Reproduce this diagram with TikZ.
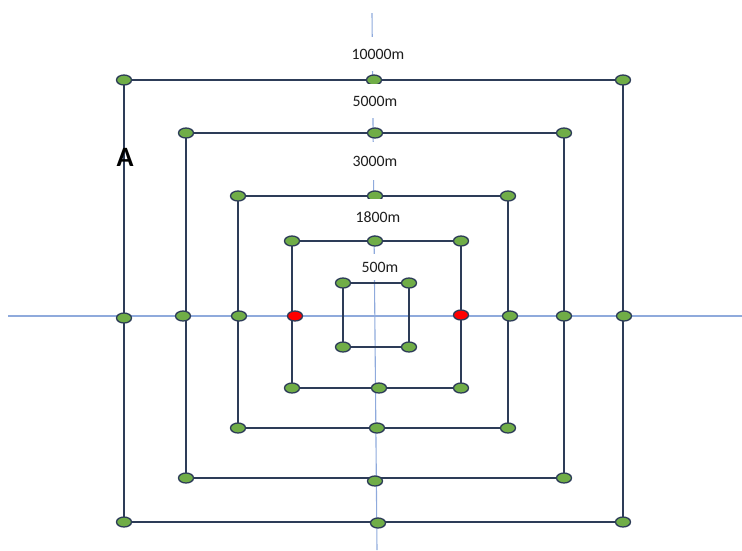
\documentclass[tikz,border=0pt]{standalone}
\usepackage{fontspec}
\setmainfont{Carlito}
\usetikzlibrary{shapes.geometric,backgrounds}
\definecolor{nodegreen}{RGB}{112,173,71}
\definecolor{edgenavy}{RGB}{45,60,88}
\definecolor{axisblue}{RGB}{143,170,220}
\definecolor{nodered}{RGB}{255,0,0}
\definecolor{labelgray}{RGB}{30,30,30}
\begin{document}
\begin{tikzpicture}[x=1pt,y=-1pt,
  pt/.style={ellipse,draw=edgenavy,line width=1.3pt,fill=nodegreen,minimum width=15pt,minimum height=10pt,inner sep=0pt},
  hot/.style={pt,fill=nodered},
  ring/.style={draw=edgenavy,line width=2pt,line join=miter},
  axisline/.style={draw=axisblue,line width=1.1pt},
  dist/.style={fill=white,text=labelgray,font=\fontsize{15.8}{18}\selectfont,inner xsep=3pt,inner ysep=0pt,minimum height=#1},
  bigletter/.style={font=\fontsize{28}{32}\selectfont\bfseries,text=black,inner sep=0pt}
]
\useasboundingbox (0,0) rectangle (742,550);

% axis end points
\coordinate (hL) at (8,316);
\coordinate (hR) at (742,316);
\coordinate (vT) at (372,13);
\coordinate (vB) at (377,550);

% square 10000m
\node[pt] (a1) at (124,80) {};
\node[pt] (a2) at (374,80) {};
\node[pt] (a3) at (623,80) {};
\node[pt] (a4) at (624,316) {};
\node[pt] (a5) at (623,522) {};
\node[pt] (a6) at (378,523) {};
\node[pt] (a7) at (124,522) {};
\node[pt] (a8) at (124,318) {};

% square 5000m
\node[pt] (b1) at (186,133) {};
\node[pt] (b2) at (375,133) {};
\node[pt] (b3) at (564,133) {};
\node[pt] (b4) at (564,316) {};
\node[pt] (b5) at (564,478) {};
\node[pt] (b6) at (375,481) {};
\node[pt] (b7) at (186,478) {};
\node[pt] (b8) at (183,316) {};

% square 3000m
\node[pt] (c1) at (238,196) {};
\node[pt] (c2) at (375,196) {};
\node[pt] (c3) at (508,196) {};
\node[pt] (c4) at (510,316) {};
\node[pt] (c5) at (508,428) {};
\node[pt] (c6) at (377,428) {};
\node[pt] (c7) at (238,428) {};
\node[pt] (c8) at (239,316) {};

% square 1800m
\node[pt] (d1) at (292,241) {};
\node[pt] (d2) at (375,241) {};
\node[pt] (d3) at (461,241) {};
\node[hot] (d4) at (461,315) {};
\node[pt] (d5) at (461,388) {};
\node[pt] (d6) at (379,388) {};
\node[pt] (d7) at (292,388) {};
\node[hot] (d8) at (295,316) {};

% square 500m
\node[pt] (e1) at (343,283) {};
\node[pt] (e2) at (409,283) {};
\node[pt] (e3) at (409,347) {};
\node[pt] (e4) at (343,347) {};

% distance labels
\node[dist=34pt] (l1) at (378,54) {10000m};
\node[dist=34pt] (l2) at (375,101) {5000m};
\node[dist=38pt] (l3) at (375,161) {3000m};
\node[dist=36pt] (l4) at (378,217) {1800m};
\node[dist=26pt] (l5) at (380,267) {500m};

\node[bigletter] (lA) at (125,157) {A};

\begin{scope}[on background layer]
  \draw[axisline] (hL) -- (hR);
  \draw[axisline] (vT) -- (vB);
  \draw[ring] (a1.center) -- (a3.center) -- (a5.center) -- (a7.center) -- cycle;
  \draw[ring] (b1.center) -- (b3.center) -- (b5.center) -- (b7.center) -- cycle;
  \draw[ring] (c1.center) -- (c3.center) -- (c5.center) -- (c7.center) -- cycle;
  \draw[ring] (d1.center) -- (d3.center) -- (d5.center) -- (d7.center) -- cycle;
  \draw[ring] (e1.center) -- (e2.center) -- (e3.center) -- (e4.center) -- cycle;
\end{scope}
\end{tikzpicture}
\end{document}
